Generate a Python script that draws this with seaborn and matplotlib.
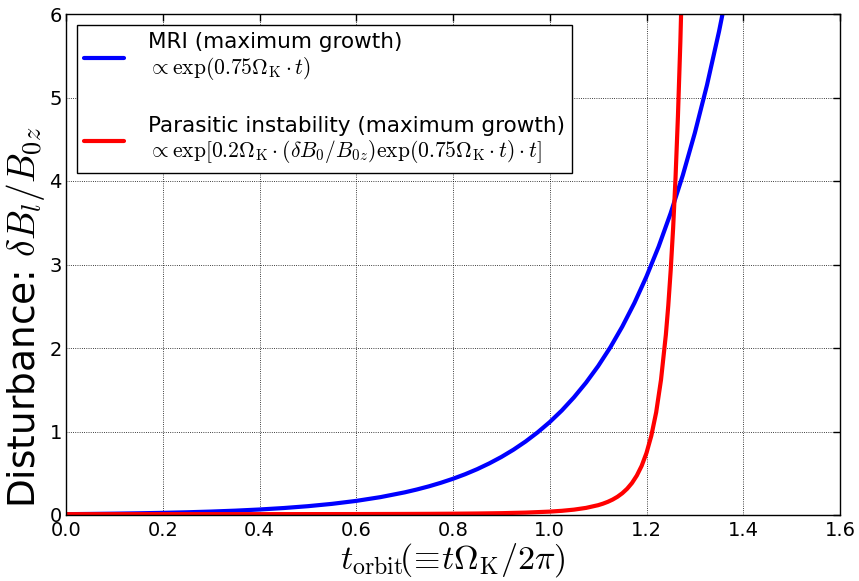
import matplotlib
matplotlib.use("Agg")
import matplotlib.pyplot as plt
import seaborn as sns
import pandas as pd

# ---- data ----
t_mri = [0.00, 0.05, 0.10, 0.15, 0.20, 0.25, 0.30, 0.35, 0.40, 0.45, 0.50,
         0.55, 0.60, 0.65, 0.70, 0.725, 0.75, 0.775, 0.80, 0.825, 0.85,
         0.875, 0.90, 0.925, 0.95, 0.975, 1.00, 1.025, 1.05, 1.075, 1.10,
         1.125, 1.15, 1.175, 1.20, 1.225, 1.25, 1.275, 1.30, 1.325, 1.35,
         1.375, 1.40]
y_mri = [0.0100, 0.0127, 0.0160, 0.0203, 0.0257, 0.0325, 0.0411, 0.0520,
         0.0659, 0.0834, 0.1055, 0.1335, 0.169, 0.214, 0.271, 0.305, 0.343,
         0.386, 0.434, 0.488, 0.549, 0.618, 0.695, 0.782, 0.880, 0.990,
         1.113, 1.252, 1.409, 1.585, 1.783, 2.006, 2.257, 2.539, 2.857,
         3.213, 3.616, 4.068, 4.577, 5.148, 5.793, 6.516, 7.332]

t_par = [0.00, 0.20, 0.40, 0.60, 0.70, 0.75, 0.80, 0.85, 0.90, 0.95, 1.00,
         1.025, 1.05, 1.075, 1.10, 1.11, 1.12, 1.13, 1.14, 1.15, 1.16, 1.17,
         1.18, 1.19, 1.20, 1.21, 1.22, 1.23, 1.24, 1.245, 1.25, 1.255, 1.26,
         1.265, 1.27, 1.275, 1.28]
y_par = [0.0100, 0.0101, 0.0103, 0.0114, 0.0127, 0.0138, 0.0155, 0.0180,
         0.0219, 0.0286, 0.0405, 0.0502, 0.0642, 0.0851, 0.1176, 0.1357,
         0.1577, 0.1848, 0.2185, 0.2609, 0.3146, 0.3832, 0.4725, 0.5885,
         0.7431, 0.9501, 1.230, 1.619, 2.158, 2.507, 2.929, 3.432, 4.038,
         4.779, 5.669, 6.770, 8.115]

label_mri = "MRI (maximum growth)\n" r"$\propto \exp(0.75\Omega_{\rm K}\cdot t)$"
label_par = ("Parasitic instability (maximum growth)\n"
             r"$\propto \exp[0.2\Omega_{\rm K}\cdot(\delta B_0/B_{0z})\exp(0.75\Omega_{\rm K}\cdot t)\cdot t]$")

x_ticks = [0.0, 0.2, 0.4, 0.6, 0.8, 1.0, 1.2, 1.4, 1.6]
y_ticks = [0, 1, 2, 3, 4, 5, 6]

df_mri = pd.DataFrame({"t": t_mri, "y": y_mri})
df_par = pd.DataFrame({"t": t_par, "y": y_par})

# ---- style ----
sns.set_style("whitegrid")
plt.rcParams.update({
    "font.family": ["DejaVu Sans"],
    "mathtext.fontset": "cm",
    "text.color": "black",
    "axes.labelcolor": "black",
    "xtick.color": "black",
    "ytick.color": "black",
    "axes.edgecolor": "black",
    "axes.linewidth": 1.0,
    "grid.color": "black",
    "grid.linestyle": ":",
    "grid.linewidth": 0.6,
    "xtick.direction": "in",
    "ytick.direction": "in",
    "xtick.top": True,
    "ytick.right": True,
})

fig = plt.figure(figsize=(8.59, 5.81), dpi=100)
ax = fig.add_axes([66 / 859, 1 - 515 / 581, (840 - 66) / 859, (515 - 14) / 581])

sns.lineplot(data=df_mri, x="t", y="y", ax=ax, color=(0, 0, 1), lw=3,
             label=label_mri)
sns.lineplot(data=df_par, x="t", y="y", ax=ax, color=(1, 0, 0), lw=3,
             label=label_par)

ax.set_xlim(0, 1.6)
ax.set_ylim(0, 6)
ax.set_xticks(x_ticks)
ax.set_yticks(y_ticks)
ax.set_xticklabels([f"{v:.1f}" for v in x_ticks])
ax.set_yticklabels([str(v) for v in y_ticks])
ax.tick_params(axis="both", which="major", labelsize=14, length=5, width=1,
               color="black", labelcolor="black")
ax.tick_params(axis="x", pad=4)
ax.tick_params(axis="y", pad=3)
ax.grid(True)
for s in ax.spines.values():
    s.set_visible(True)
    s.set_color("black")

ax.set_xlabel(r"$t_{\rm orbit}\!(\!\equiv\!t\Omega_{\rm K}/2\pi)$",
              fontsize=24.5, labelpad=1)
ax.set_ylabel(r"Disturbance: $\delta B_l/B_{0z}$", fontsize=27)
ax.yaxis.set_label_coords(-0.0245, 0.395)

leg = ax.legend(loc="upper left", fontsize=15.5, frameon=True, fancybox=False,
                edgecolor="black", framealpha=1, handlelength=1.85,
                handletextpad=1.1, labelspacing=1.55, borderpad=0.35,
                borderaxespad=0.5)
leg.get_frame().set_linewidth(1.0)
for txt in leg.get_texts():
    txt.set_linespacing(1.15)

fig.savefig("out.png", dpi=100)
